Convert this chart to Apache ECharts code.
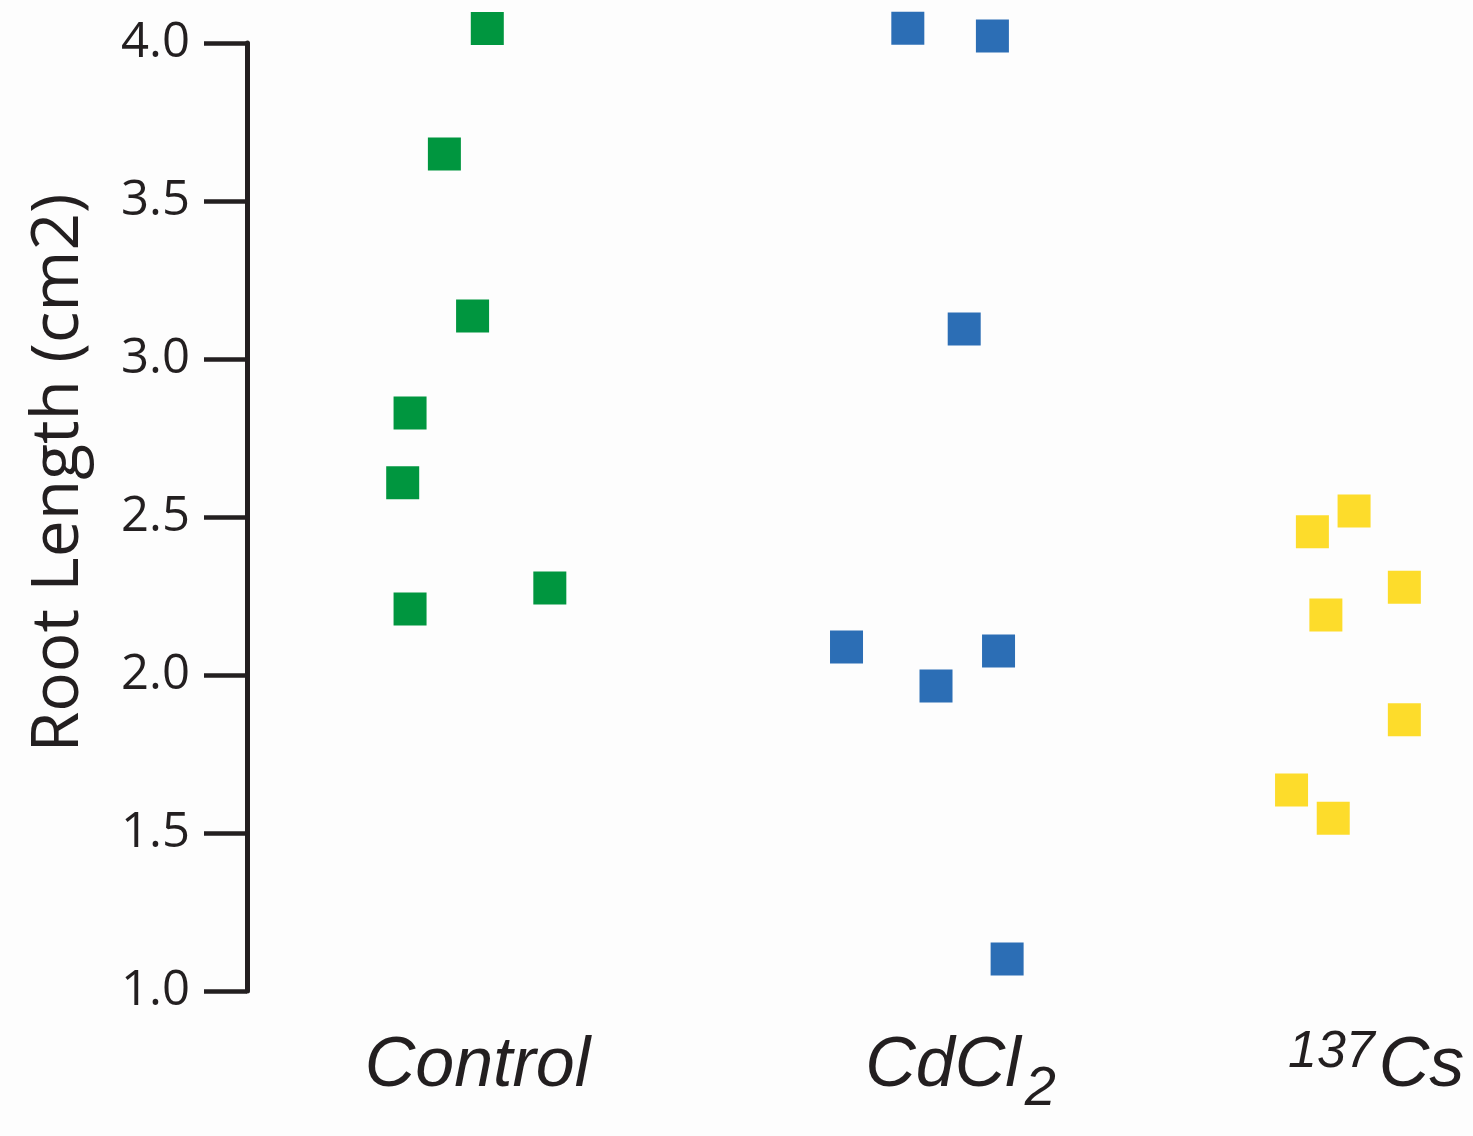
<!DOCTYPE html>
<html>
<head>
<meta charset="utf-8">
<script src="https://cdn.jsdelivr.net/npm/echarts@6/dist/echarts.min.js"></script>
<style>
  html, body { margin: 0; padding: 0; background: #fdfdfd; }
  #chart { width: 1473px; height: 1136px; }
</style>
</head>
<body>
<div id="chart"></div>
<script>
// groups along a continuous 0–10 position axis (points are jittered around each group)
const groupNames = ["Control", "CdCl2", "137Cs"];
const groupPos = [1.88, 5.82, 9.21];

const controlX = [1.96, 1.61, 1.84, 1.33, 1.27, 1.33, 2.47];
const controlY = [4.046, 3.649, 3.136, 2.829, 2.608, 2.209, 2.275];

const cdclX = [5.39, 6.08, 5.85, 4.89, 5.62, 6.13, 6.20];
const cdclY = [4.047, 4.022, 3.095, 2.089, 1.965, 2.076, 1.101];

const csX = [8.69, 9.03, 9.44, 8.80, 9.44, 8.52, 8.86];
const csY = [2.453, 2.519, 2.278, 2.190, 1.858, 1.636, 1.547];

const yTicks = { min: 1, max: 4, interval: 0.5 };

(function () {
  const chart = echarts.init(document.getElementById("chart"), null, { renderer: "canvas" });

  const ink = "#231f20";
  const zip = (xs, ys) => xs.map((x, i) => [x, ys[i]]);

  // rich-text forms of the category labels (sub/superscripts)
  const labelRich = {
    Control: "{b|Control}",
    CdCl2: "{b|CdCl}{sub|2}",
    "137Cs": "{sup|137}{b|Cs}",
  };

  function scatter(name, xs, ys, color) {
    return {
      name,
      type: "scatter",
      symbol: "rect",
      symbolSize: 33,
      clip: false,
      itemStyle: { color, opacity: 1 },
      data: zip(xs, ys),
    };
  }

  chart.setOption({
    animation: false,
    backgroundColor: "#fdfdfd",
    grid: {
      left: 247, right: 0, top: 43, bottom: 145,
      containLabel: false,
      outerBoundsMode: "none",
    },
    xAxis: {
      type: "value",
      min: 0,
      max: 10,
      axisLine: { show: false },
      axisTick: { show: false },
      splitLine: { show: false },
      axisLabel: {
        customValues: groupPos,
        margin: 21,
        formatter: (v) => {
          const i = groupPos.findIndex((p) => Math.abs(p - v) < 1e-6);
          return i < 0 ? "" : labelRich[groupNames[i]];
        },
        rich: {
          b: {
            fontFamily: "'Liberation Sans', Arial, sans-serif",
            fontStyle: "italic",
            fontSize: 70,
            color: ink,
            lineHeight: 110,
          },
          sub: {
            fontFamily: "'Liberation Sans', Arial, sans-serif",
            fontStyle: "italic",
            fontSize: 56,
            color: ink,
            padding: [44, 0, 0, 4],
            lineHeight: 110,
          },
          sup: {
            fontFamily: "'Liberation Sans', Arial, sans-serif",
            fontStyle: "italic",
            fontSize: 52,
            color: ink,
            padding: [0, 4, 28, 0],
            lineHeight: 110,
          },
        },
      },
    },
    yAxis: {
      type: "value",
      min: yTicks.min,
      max: yTicks.max,
      interval: yTicks.interval,
      name: "Root Length (cm2)",
      nameLocation: "middle",
      nameRotate: 90,
      nameGap: 155,
      nameTextStyle: {
        fontFamily: "'Open Sans', sans-serif",
        fontSize: 66,
        color: ink,
        padding: [0, 0, 0, 88],
      },
      axisLine: { show: true, lineStyle: { color: ink, width: 5 } },
      axisTick: { show: true, length: 43, lineStyle: { color: ink, width: 4.5 } },
      splitLine: { show: false },
      axisLabel: {
        margin: 57,
        fontFamily: "'Open Sans', sans-serif",
        fontSize: 49,
        color: ink,
        formatter: (v) => v.toFixed(1),
      },
    },
    series: [
      scatter("Control", controlX, controlY, "#00963f"),
      scatter("CdCl2", cdclX, cdclY, "#2c6eb5"),
      scatter("137Cs", csX, csY, "#fddc2b"),
    ],
  });

  window.addEventListener("resize", () => chart.resize());
})();
</script>
</body>
</html>
